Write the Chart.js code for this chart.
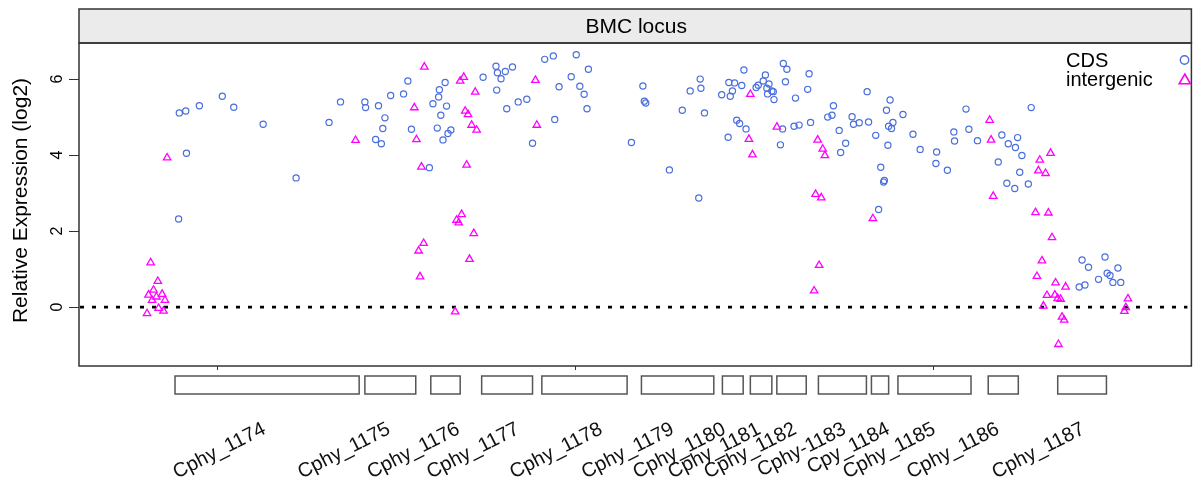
<!DOCTYPE html>
<html><head><meta charset="utf-8">
<script src="https://cdn.jsdelivr.net/npm/chart.js@4.4.1/dist/chart.umd.min.js"></script>
<style>html,body{margin:0;padding:0;background:#fff;}#wrap{width:1193px;height:486px;position:relative;}</style>
</head><body><div id="wrap"><canvas id="c"></canvas></div>
<script>
// ---- data ----
const panelTitle = 'BMC locus';
const yAxisTitle = 'Relative Expression (log2)';
const seriesNames = ['CDS', 'intergenic'];
const xTickValues = [0, 5, 10];          // genomic position (kb, relative)
const yTickValues = [0, 2, 4, 6];
const geneNames = ['Cphy_1174','Cphy_1175','Cphy_1176','Cphy_1177','Cphy_1178','Cphy_1179','Cphy_1180','Cphy_1181','Cphy_1182','Cphy-1183','Cpy_1184','Cphy_1185','Cphy_1186','Cphy_1187'];
const geneStart = [-0.59, 2.06, 2.98, 3.69, 4.53, 5.92, 7.05, 7.44, 7.81, 8.39, 9.13, 9.50, 10.76, 11.73];
const geneEnd   = [1.98, 2.77, 3.39, 4.40, 5.72, 6.93, 7.34, 7.74, 8.22, 9.06, 9.37, 10.52, 11.18, 12.41];
const geneLabelPos = [0.65, 2.39, 3.36, 4.19, 5.35, 6.35, 7.07, 7.56, 8.06, 8.75, 9.36, 10.00, 10.89, 12.08];

const cdsX = [-0.54,-0.53,-0.44,-0.43,-0.25,0.07,0.23,0.64,1.10,1.56,
1.72,2.06,2.07,2.25,2.34,2.31,2.21,2.29,2.42,2.60,
2.66,2.71,2.96,3.01,3.09,3.10,3.18,3.20,3.12,3.07,
3.15,3.22,3.26,3.71,3.89,3.91,4.02,4.12,3.96,3.90,
4.04,4.20,4.32,4.57,4.69,5.01,5.18,4.94,5.06,4.77,
5.12,5.16,4.71,4.40,5.78,5.94,5.96,5.98,6.31,6.49,
6.60,6.74,6.75,6.80,6.72,7.04,7.14,7.22,7.16,7.19,
7.32,7.35,7.25,7.29,7.38,7.13,7.52,7.55,7.62,7.65,
7.70,7.67,7.74,7.68,7.76,7.77,7.90,7.95,7.93,8.07,
7.89,8.05,8.12,7.86,8.26,8.24,8.28,8.60,8.52,8.58,
8.68,8.77,8.70,8.86,8.88,8.96,9.09,9.07,9.19,9.34,
9.39,9.43,9.37,9.41,9.57,9.36,9.26,9.31,9.30,9.23,
9.71,9.81,10.04,10.03,10.19,10.28,10.29,10.49,10.45,10.61,
10.90,10.95,11.04,11.14,11.17,11.23,11.20,11.02,11.13,11.32,
11.36,12.07,12.16,12.39,12.57,12.30,12.42,12.46,12.50,12.61,
12.03,12.11];
const cdsY = [2.32,5.11,5.16,4.05,5.30,5.55,5.26,4.81,3.40,4.86,
5.40,5.40,5.25,5.30,4.98,4.70,4.41,4.30,5.57,5.61,
5.95,4.68,3.67,5.35,5.53,5.72,5.91,5.29,5.05,4.71,
4.40,4.57,4.66,6.05,6.34,6.17,6.20,6.32,6.01,5.71,
5.22,5.40,5.47,6.52,6.61,6.64,6.26,6.06,5.81,5.80,
5.60,5.22,4.94,4.31,4.33,5.82,5.42,5.37,3.61,5.18,
5.69,6.00,5.76,5.11,2.87,5.59,5.91,5.90,5.55,5.69,
5.83,6.24,4.92,4.83,4.69,4.47,5.78,5.84,5.95,6.11,
5.87,5.76,5.69,5.61,5.67,5.46,6.41,6.26,5.93,5.50,
4.69,4.76,4.79,4.27,6.14,5.73,4.86,5.30,5.00,5.05,
4.65,4.31,4.07,5.01,4.81,4.85,4.87,5.67,4.52,5.18,
5.45,4.86,4.76,4.70,5.07,4.26,3.68,3.33,3.29,2.57,
4.55,4.15,4.08,3.78,3.60,4.61,4.37,4.68,5.21,4.38,
3.82,4.53,4.30,4.20,4.46,3.99,3.55,3.26,3.12,3.24,
5.25,1.24,1.05,1.32,1.03,0.73,0.89,0.83,0.65,0.65,
0.53,0.58];
const igX = [-0.93,-0.83,-0.89,-0.96,-0.85,-0.77,-0.91,-0.73,-0.82,-0.98,
-0.75,-0.70,1.93,2.89,2.75,2.78,2.85,2.88,2.81,2.83,
3.44,3.39,3.60,3.46,3.50,3.55,3.62,3.48,3.41,3.34,
3.37,3.58,3.52,3.32,4.44,4.46,7.44,7.81,7.42,7.47,
8.38,8.45,8.48,8.35,8.43,8.40,8.33,9.15,10.78,10.80,
10.83,11.48,11.63,11.46,11.56,11.42,11.60,11.65,11.51,11.44,
11.70,11.84,11.58,11.69,11.73,11.77,11.53,11.79,11.82,11.74,
12.71,12.68,12.66];
const igY = [1.17,0.68,0.45,0.32,0.27,0.34,0.18,0.18,-0.03,-0.17,
-0.10,3.93,4.39,6.32,5.25,4.41,3.69,1.68,1.48,0.80,
6.05,5.95,5.66,5.16,5.07,4.79,4.66,3.74,2.44,2.29,
2.22,1.94,1.26,-0.12,5.97,4.79,5.60,4.74,4.42,4.01,
4.40,4.16,3.99,2.97,2.88,1.10,0.43,2.33,4.92,4.40,
2.92,3.87,4.05,3.59,3.52,2.49,2.48,1.83,1.22,0.81,
0.64,0.53,0.31,0.32,0.23,0.21,0.03,-0.26,-0.34,-0.98,
0.22,-0.01,-0.11];

// ---- styling / drawing ----
const FONT = '"Liberation Sans", Arial, Helvetica, sans-serif';
const BLUE = '#4a6fdc', MAG = '#ff00ff', LINE = '#333333';
const toPts = (xs, ys) => xs.map((v, i) => ({x: v, y: ys[i]}));

function tri(ctx, x, y, r) {
  ctx.beginPath();
  for (let k = 0; k < 3; k++) {
    const a = k * 2 * Math.PI / 3;
    const px = x + Math.sin(a) * r, py = y - Math.cos(a) * r;
    k ? ctx.lineTo(px, py) : ctx.moveTo(px, py);
  }
  ctx.closePath();
}

const deco = {
  id: 'deco',
  beforeDatasetsDraw(chart) {
    const {ctx, chartArea: a, scales: {y}} = chart;
    const y0 = y.getPixelForValue(0);
    ctx.save();
    ctx.beginPath();
    ctx.setLineDash([4, 8]);
    ctx.lineWidth = 2.7;
    ctx.strokeStyle = '#000';
    ctx.moveTo(a.left + 1, y0); ctx.lineTo(a.right, y0);
    ctx.stroke();
    ctx.restore();
  },
  afterDraw(chart) {
    const {ctx, chartArea: a, scales: {x, y}} = chart;
    ctx.save();
    // strip
    ctx.fillStyle = '#ebebeb';
    ctx.fillRect(a.left, 9, a.right - a.left + 4, a.top - 9);
    ctx.lineWidth = 1.5; ctx.strokeStyle = LINE;
    ctx.strokeRect(a.left, 9, a.right - a.left + 4, a.top - 9);
    ctx.fillStyle = '#000';
    ctx.font = '21px ' + FONT;
    ctx.textAlign = 'center'; ctx.textBaseline = 'middle';
    ctx.fillText(panelTitle, (a.left + a.right) / 2 + 3, (9 + a.top) / 2 + 1);
    // panel box
    ctx.strokeRect(a.left, a.top, a.right - a.left + 4, a.bottom - a.top);
    // y tick labels
    ctx.font = '16px ' + FONT;
    ctx.textAlign = 'center'; ctx.textBaseline = 'alphabetic';
    yTickValues.forEach(v => {
      const py = y.getPixelForValue(v);
      ctx.save(); ctx.translate(a.left - 17, py); ctx.rotate(-Math.PI / 2);
      ctx.fillText(String(v), 0, 0); ctx.restore();
    });
    // y title
    ctx.font = '21px ' + FONT;
    ctx.save(); ctx.translate(27, (a.top + a.bottom) / 2 - 4); ctx.rotate(-Math.PI / 2);
    ctx.fillText(yAxisTitle, 0, 0); ctx.restore();
    // gene boxes
    ctx.lineWidth = 1.5; ctx.strokeStyle = '#555';
    const bTop = a.bottom + 10, bH = 18;
    geneStart.forEach((s, i) => {
      const x1 = x.getPixelForValue(s), x2 = x.getPixelForValue(geneEnd[i]);
      ctx.fillStyle = '#fff';
      ctx.fillRect(x1, bTop, x2 - x1, bH);
      ctx.strokeRect(x1, bTop, x2 - x1, bH);
    });
    // gene labels
    ctx.fillStyle = '#111';
    ctx.font = '20px ' + FONT;
    ctx.textAlign = 'right'; ctx.textBaseline = 'alphabetic';
    geneNames.forEach((n, i) => {
      const px = x.getPixelForValue(geneLabelPos[i]) + 3;
      ctx.save(); ctx.translate(px, a.bottom + 67); ctx.rotate(-27 * Math.PI / 180);
      ctx.fillText(n, 0, 0); ctx.restore();
    });
    // legend
    ctx.fillStyle = '#000';
    ctx.font = '20px ' + FONT;
    ctx.textAlign = 'left';
    ctx.fillText(seriesNames[0], 1066, 67);
    ctx.fillText(seriesNames[1], 1066, 86);
    ctx.lineWidth = 1.4;
    ctx.strokeStyle = BLUE;
    ctx.beginPath(); ctx.arc(1184.5, 60, 4.2, 0, 2 * Math.PI); ctx.stroke();
    ctx.strokeStyle = MAG; ctx.lineWidth = 1.6;
    tri(ctx, 1184.8, 80.5, 6.5); ctx.stroke();
    ctx.restore();
  }
};

new Chart(document.getElementById('c'), {
  type: 'scatter',
  data: {
    datasets: [
      {label: seriesNames[0], data: toPts(cdsX, cdsY), pointStyle: 'circle', pointRadius: 3.1, borderColor: BLUE, backgroundColor: 'rgba(0,0,0,0)', borderWidth: 1.2, pointHoverRadius: 3.1},
      {label: seriesNames[1], data: toPts(igX, igY), pointStyle: 'triangle', pointRadius: 4.3, borderColor: MAG, backgroundColor: 'rgba(0,0,0,0)', borderWidth: 1.3, pointHoverRadius: 4.3}
    ]
  },
  options: {
    responsive: true, maintainAspectRatio: false, animation: false, devicePixelRatio: 1,
    layout: {padding: {top: 43, left: 0, right: 0, bottom: 0}},
    plugins: {legend: {display: false}, tooltip: {enabled: false}, title: {display: false}},
    scales: {
      x: {
        type: 'linear', min: -1.93, max: 13.54,
        afterBuildTicks: s => { s.ticks = xTickValues.map(v => ({value: v})); },
        afterFit: s => { s.height = 120; },
        ticks: {display: false},
        grid: {display: true, drawOnChartArea: false, drawTicks: true, tickLength: 4, color: LINE, lineWidth: 1},
        border: {display: false}
      },
      y: {
        type: 'linear', min: -1.55, max: 6.95,
        afterBuildTicks: s => { s.ticks = yTickValues.map(v => ({value: v})); },
        afterFit: s => { s.width = 79; },
        ticks: {display: false},
        grid: {display: true, drawOnChartArea: false, drawTicks: true, tickLength: 10, color: LINE, lineWidth: 1},
        border: {display: false}
      }
    }
  },
  plugins: [deco]
});
</script></body></html>
